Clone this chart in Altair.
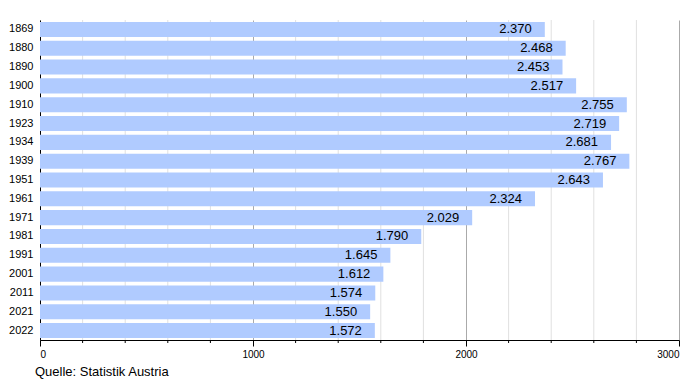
import altair as alt
import pandas as pd

years = ["1869", "1880", "1890", "1900", "1910", "1923", "1934", "1939", "1951",
         "1961", "1971", "1981", "1991", "2001", "2011", "2021", "2022"]
values = [2370, 2468, 2453, 2517, 2755, 2719, 2681, 2767, 2643,
          2324, 2029, 1790, 1645, 1612, 1574, 1550, 1572]
major_ticks = [0, 1000, 2000, 3000]
minor_ticks = [200, 400, 600, 800, 1200, 1400, 1600, 1800, 2200, 2400, 2600, 2800]
source = "Quelle: Statistik Austria"

df = pd.DataFrame({"year": years, "v": values})
minor_df = pd.DataFrame({"t": minor_ticks})

W, H = 639, 320
FONT = "Liberation Sans"

xscale = alt.Scale(domain=[0, 3000], nice=False)
yenc = alt.Y("year:N", sort=years, title=None,
             scale=alt.Scale(paddingInner=0.2, paddingOuter=0.1),
             axis=alt.Axis(ticks=False, labelFontSize=11, labelFont=FONT,
                           labelColor="#000", labelPadding=7,
                           domainColor="#000", grid=False))

minor_grid = alt.Chart(minor_df).mark_rule(color="#e0e0e0", strokeWidth=1).encode(
    x=alt.X("t:Q", scale=xscale),
    y=alt.value(0), y2=alt.value(H))

minor_tick = alt.Chart(minor_df).mark_rule(color="#000", strokeWidth=1).encode(
    x=alt.X("t:Q", scale=xscale),
    y=alt.value(H), y2=alt.value(H + 3))

bars = alt.Chart(df).mark_bar(color="#b0cbff").encode(
    x=alt.X("v:Q", scale=xscale, title=None,
            axis=alt.Axis(values=major_ticks, grid=True, gridColor="#aaaaaa",
                          domainColor="#000", tickColor="#000", tickSize=6,
                          labelFontSize=10, labelFont=FONT, labelColor="#000",
                          labelPadding=3, format="d")),
    y=yenc)

labels = alt.Chart(df).transform_calculate(
    lab="replace(format(datum.v, ','), ',', '.')"
).mark_text(align="right", baseline="middle", dx=-13, fontSize=13,
            font=FONT, color="#000").encode(
    x=alt.X("v:Q", scale=xscale),
    y=alt.Y("year:N", sort=years),
    text="lab:N")

src = alt.Chart(pd.DataFrame({"s": [source]})).mark_text(
    align="left", baseline="middle", fontSize=13, font=FONT, color="#000"
).encode(x=alt.value(-5), y=alt.value(H + 32), text="s:N")

chart = alt.layer(minor_grid, bars, minor_tick, labels, src).properties(
    width=W, height=H,
    autosize=alt.AutoSizeParams(type="none"),
    padding={"left": 32, "top": 12, "right": 13, "bottom": 40}
).configure_view(stroke=None).configure_axis(domainWidth=1)

chart.save("out.html", embed_options={"renderer": "svg", "actions": False})
